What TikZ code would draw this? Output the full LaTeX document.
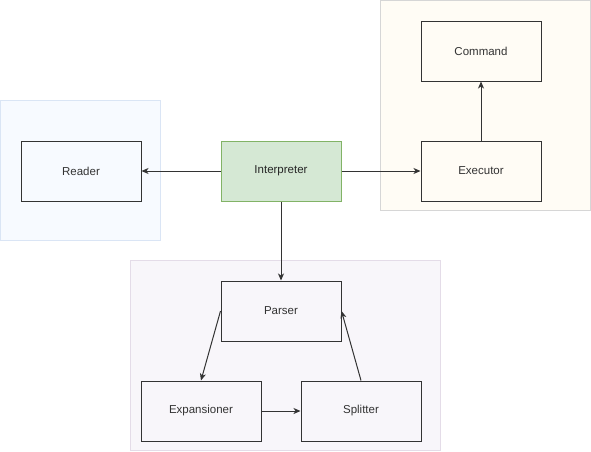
\documentclass[tikz,border=0pt]{standalone}
\usepackage{fontspec}
\setmainfont{Liberation Sans}
\usetikzlibrary{arrows.meta}
\definecolor{ink}{HTML}{333333}
\definecolor{readerfill}{HTML}{F7FAFF}
\definecolor{readerline}{HTML}{DAE5F5}
\definecolor{execfill}{HTML}{FFFCF5}
\definecolor{execline}{HTML}{D6D6D6}
\definecolor{parsefill}{HTML}{F8F6FA}
\definecolor{parseline}{HTML}{E4DCE8}
\definecolor{greenfill}{HTML}{D5E8D4}
\definecolor{greenline}{HTML}{82B366}
\begin{document}
\begin{tikzpicture}[x=1pt,y=-1pt,
  group/.style={draw, line width=0.8pt},
  box/.style={draw=ink, line width=1pt, minimum width=120pt, minimum height=60pt,
    inner sep=0pt, text=ink, font=\fontsize{11.5}{13}\selectfont, anchor=north west},
  flow/.style={draw=ink, line width=1pt, -{Stealth[length=7pt,width=6pt,inset=2pt]}}]
  \useasboundingbox (0,0) rectangle (591,451);
  % group backgrounds
  \draw[group, draw=readerline, fill=readerfill] (0.5,100.5) rectangle (160.5,240.5);
  \draw[group, draw=execline, fill=execfill] (380.5,0.5) rectangle (590.5,210.5);
  \draw[group, draw=parseline, fill=parsefill] (130.5,260.5) rectangle (440.5,450.5);
  % components
  \node[box] (reader) at (20.5,140.5) {Reader};
  \node[box, draw=greenline, fill=greenfill, text=black!85] (interp) at (220.5,140.5) {Interpreter};
  \node[box] (command) at (420.5,20.5) {Command};
  \node[box] (executor) at (420.5,140.5) {Executor};
  \node[box] (parser) at (220.5,280.5) {Parser};
  \node[box] (expans) at (140.5,380.5) {Expansioner};
  \node[box] (splitter) at (300.5,380.5) {Splitter};
  % connectors
  \draw[flow] (interp.west) -- (reader.east);
  \draw[flow] (interp.east) -- (executor.west);
  \draw[flow] (executor.north) -- (command.south);
  \draw[flow] (interp.south) -- (parser.north);
  \draw[flow] (parser.west) -- (expans.north);
  \draw[flow] (expans.east) -- (splitter.west);
  \draw[flow] (splitter.north) -- (parser.east);
\end{tikzpicture}
\end{document}
